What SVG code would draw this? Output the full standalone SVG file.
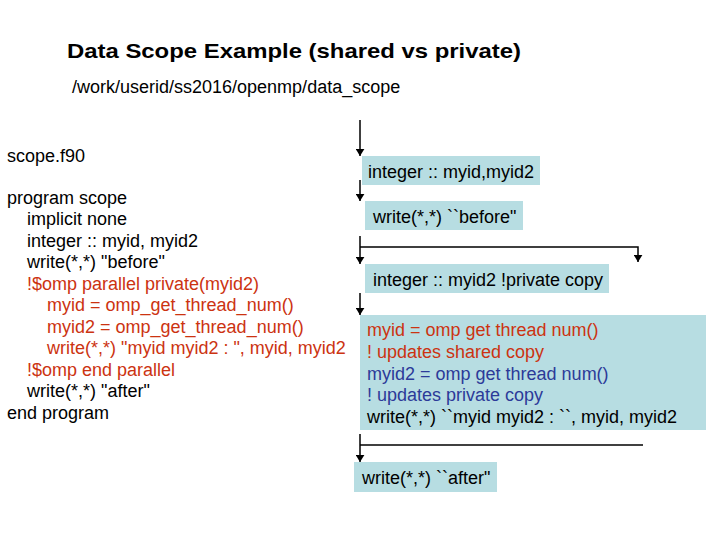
<svg xmlns="http://www.w3.org/2000/svg" width="720" height="540" viewBox="0 0 720 540">
<defs>
<marker id="a" viewBox="0 0 8 10" refX="8" refY="5" markerWidth="7" markerHeight="9" orient="auto" markerUnits="userSpaceOnUse"><path d="M0,0 L8,5 L0,10 Z" fill="#000"/></marker></defs>
<style>text{font-family:"Liberation Sans",Arial,sans-serif;font-size:18px;fill:#000}.r{fill:#cc3311}.b{fill:#2c3a99}.box{fill:#b7dde2}.ln{stroke:#000;stroke-width:1.5;fill:none}</style>
<rect width="720" height="540" fill="#fff"/>
<text x="67" y="58" style="font-size:21px;font-weight:bold" textLength="454" lengthAdjust="spacingAndGlyphs">Data Scope Example (shared vs private)</text>
<text x="72" y="93">/work/userid/ss2016/openmp/data_scope</text>
<g id="code">
<text x="7" y="162">scope.f90</text>
<text x="7" y="204">program scope</text>
<text x="27" y="225">implicit none</text>
<text x="27" y="247">integer :: myid, myid2</text>
<text x="27" y="268">write(*,*) "before"</text>
<text x="27" y="290" class="r">!$omp parallel private(myid2)</text>
<text x="47" y="311" class="r">myid = omp_get_thread_num()</text>
<text x="47" y="333" class="r">myid2 = omp_get_thread_num()</text>
<text x="47" y="354" class="r">write(*,*) "myid myid2 : ", myid, myid2</text>
<text x="27" y="376" class="r">!$omp end parallel</text>
<text x="27" y="397">write(*,*) "after"</text>
<text x="7" y="419">end program</text>
</g>
<g id="connectors">
<line class="ln" x1="360" y1="120" x2="360" y2="156" marker-end="url(#a)"/>
<line class="ln" x1="360" y1="180" x2="360" y2="201" marker-end="url(#a)"/>
<line class="ln" x1="360" y1="236" x2="360" y2="264" marker-end="url(#a)"/>
<polyline class="ln" points="360,247 638,247 638,262" marker-end="url(#a)"/>
<line class="ln" x1="360" y1="293" x2="360" y2="315" marker-end="url(#a)"/>
<line class="ln" x1="360" y1="434" x2="360" y2="462" marker-end="url(#a)"/>
<line class="ln" x1="360" y1="445" x2="643" y2="445"/>
</g>
<g id="n1"><rect class="box" x="362" y="156" width="178" height="29"/><text x="368" y="178">integer :: myid,myid2</text></g>
<g id="n2"><rect class="box" x="365" y="201" width="158" height="29"/><text x="373" y="223">write(*,*) ``before"</text></g>
<g id="n3"><rect class="box" x="365" y="264" width="244" height="29"/><text x="373" y="286">integer :: myid2 !private copy</text></g>
<g id="n4"><rect class="box" x="360" y="315" width="346" height="115"/>
<text x="367" y="336" class="r">myid = omp get thread num()</text>
<text x="367" y="358" class="r">! updates shared copy</text>
<text x="367" y="380" class="b">myid2 = omp get thread num()</text>
<text x="367" y="401" class="b">! updates private copy</text>
<text x="367" y="423">write(*,*) ``myid myid2 : ``, myid, myid2</text></g>
<g id="n5"><rect class="box" x="354" y="462" width="143" height="30"/><text x="362" y="484">write(*,*) ``after"</text></g>
</svg>
